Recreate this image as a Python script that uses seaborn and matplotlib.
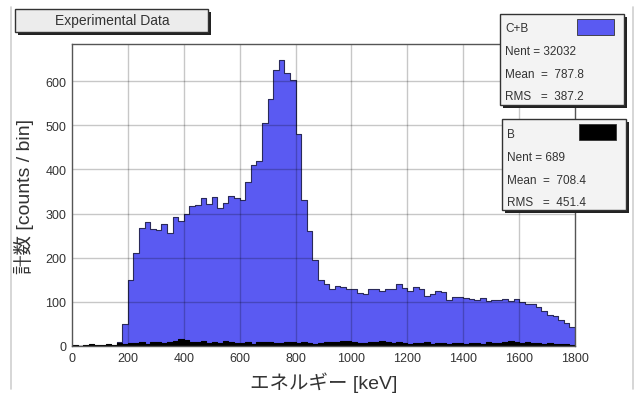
import numpy as np
import pandas as pd
import matplotlib
matplotlib.use('Agg')
import matplotlib.pyplot as plt
import seaborn as sns
from matplotlib.patches import Rectangle
from matplotlib.ticker import MultipleLocator

# bin edges (keV), 20 keV per bin
bin_width = 20
bin_starts = list(range(0, 1800, bin_width))

# C+B counts per bin
cb_counts = [
    0, 0, 0, 0, 0, 0, 0, 0, 8, 50,
    150, 210, 268, 280, 265, 262, 276, 255, 292, 282,
    300, 316, 320, 336, 322, 338, 312, 325, 340, 335,
    330, 372, 410, 418, 505, 560, 625, 648, 618, 602,
    480, 330, 260, 195, 150, 140, 130, 135, 133, 128,
    130, 120, 118, 128, 130, 125, 130, 128, 140, 132,
    124, 134, 130, 113, 118, 125, 122, 104, 110, 112,
    108, 106, 104, 108, 102, 104, 104, 106, 102, 106,
    100, 95, 96, 88, 80, 70, 68, 60, 52, 43,
]

# B (background) counts per bin
b_counts = [
    2, 1, 3, 4, 2, 3, 5, 3, 6, 4,
    7, 6, 8, 5, 9, 8, 7, 10, 12, 16,
    14, 9, 8, 11, 7, 9, 6, 12, 8, 7,
    6, 8, 5, 9, 10, 8, 7, 6, 8, 9,
    7, 8, 6, 5, 7, 9, 8, 10, 12, 11,
    9, 7, 6, 8, 9, 12, 10, 7, 8, 6,
    5, 7, 6, 8, 5, 6, 7, 5, 6, 7,
    5, 6, 7, 5, 8, 6, 7, 10, 12, 9,
    7, 8, 6, 7, 5, 6, 4, 5, 4, 3,
]

stats_cb = ["C+B", "Nent = 32032", "Mean  =  787.8", "RMS   =  387.2"]
stats_b = ["B", "Nent = 689", "Mean  =  708.4", "RMS   =  451.4"]

edges = bin_starts + [bin_starts[-1] + bin_width]
centers = [s + bin_width / 2 for s in bin_starts]
df = pd.DataFrame({'energy': centers, 'cb': cb_counts, 'b': b_counts})

sns.set_style('white')
plt.rcParams['font.family'] = ['Liberation Sans', 'Noto Sans CJK JP', 'DejaVu Sans']

W, H = 641, 406
fig = plt.figure(figsize=(W / 100, H / 100), dpi=100)
ax = fig.add_axes([72 / W, 1 - 347 / H, (575 - 72) / W, (347 - 45) / H])

blue = '#5a5af2'
sns.histplot(data=df, x='energy', weights='cb', bins=edges, element='step',
             fill=True, color=blue, alpha=1, edgecolor='#2a2a5a', linewidth=0.8, ax=ax)
sns.histplot(data=df, x='energy', weights='b', bins=edges, element='step',
             fill=True, color='black', alpha=1, edgecolor='black', linewidth=0.8, ax=ax)

ax.set_xlim(0, 1800)
ax.set_ylim(0, 684)
ax.xaxis.set_major_locator(MultipleLocator(200))
ax.yaxis.set_major_locator(MultipleLocator(100))
ax.yaxis.set_minor_locator(MultipleLocator(20))
# grid drawn over the histogram, like the reference
for xv in range(200, 1800, 200):
    ax.axvline(xv, color='black', alpha=0.22, linewidth=1.0, zorder=5)
for yv in range(100, 700, 100):
    ax.axhline(yv, color='black', alpha=0.22, linewidth=1.0, zorder=5)
ax.tick_params(axis='both', which='major', direction='in', length=9, width=0.8,
               color='#555555', labelsize=9, labelcolor='#333333', pad=4)
ax.tick_params(axis='y', which='minor', direction='in', length=5, width=0.7, color='#777777')
ax.tick_params(axis='x', which='both', top=False)
ax.tick_params(axis='y', which='both', right=False)
for sp in ax.spines.values():
    sp.set_color('#555555')
    sp.set_linewidth(1.0)
    sp.set_zorder(6)

ax.set_xlabel("エネルギー [keV]", fontsize=14, color='#333333', labelpad=6)
ax.set_ylabel("計数 [counts / bin]", fontsize=14, color='#333333', labelpad=8)


def px_rect(x0, y0, x1, y1, **kw):
    return Rectangle((x0 / W, 1 - y1 / H), (x1 - x0) / W, (y1 - y0) / H,
                     transform=fig.transFigure, **kw)


def shadow_box(x0, y0, x1, y1, face, z=5):
    fig.patches.append(px_rect(x0 + 3, y0 + 3, x1 + 3, y1 + 3, facecolor='#222222',
                               edgecolor='none', zorder=z))
    fig.patches.append(px_rect(x0, y0, x1, y1, facecolor=face, edgecolor='#333333',
                               linewidth=1.0, zorder=z + 1))


# outer faint frame lines
fig.add_artist(plt.Line2D([11 / W, 11 / W], [1 - 8 / H, 1 - 390 / H], transform=fig.transFigure,
                          color='#d0d0d0', linewidth=1.2))
fig.add_artist(plt.Line2D([633 / W, 633 / W], [1 - 8 / H, 1 - 390 / H], transform=fig.transFigure,
                          color='#d0d0d0', linewidth=1.2))

# title box
shadow_box(15, 10, 208, 33, '#ececec')
fig.text(112 / W, 1 - 21.5 / H, "Experimental Data", ha='center', va='center',
         fontsize=10, color='#333333', zorder=10)

# stats boxes
for (x0, y0, x1, y1), lines, swatch_color, rows in [
    ((500, 15, 624, 106), stats_cb, blue, [29, 52, 75, 97]),
    ((502, 120, 626, 211), stats_b, 'black', [135, 158, 181, 203]),
]:
    shadow_box(x0, y0, x1, y1, '#f3f3f3')
    fig.patches.append(px_rect(x1 - 47, y0 + 5, x1 - 10, y0 + 21, facecolor=swatch_color,
                               edgecolor='#333333', linewidth=0.6, zorder=8))
    for txt, yy in zip(lines, rows):
        fig.text((x0 + 5) / W, 1 - yy / H, txt, ha='left', va='center',
                 fontsize=8.5, color='#333333', zorder=10)

fig.savefig('out.png', dpi=100)
